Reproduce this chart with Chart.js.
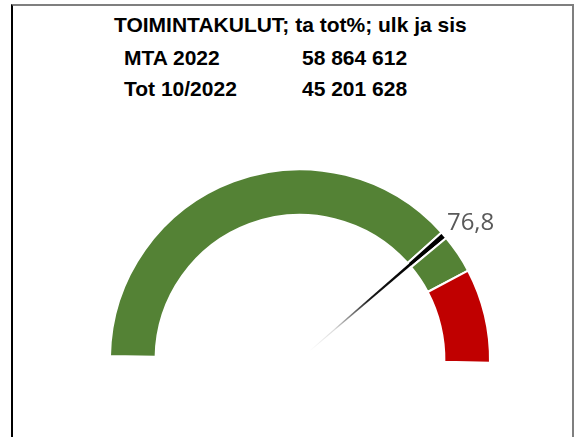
<!DOCTYPE html>
<html>
<head>
<meta charset="utf-8">
<script src="https://cdn.jsdelivr.net/npm/chart.js@4/dist/chart.umd.min.js"></script>
<style>
  html, body { margin:0; padding:0; background:#fff; width:579px; height:437px; overflow:hidden; }
  .frame { position:absolute; left:11px; top:4px; width:559px; height:440px;
           border-top:2px solid #7f7f7f; border-left:2px solid #000; border-right:2px solid #7f7f7f; }
  .t { position:absolute; font-family:"Liberation Sans", Arial, sans-serif; font-weight:bold;
       font-size:21px; line-height:21px; color:#000; white-space:nowrap; }
  #wrap { position:absolute; left:80px; top:140px; width:440px; height:230px; }
</style>
</head>
<body>
<div class="frame"></div>
<div class="t" id="title" style="left:114px; top:14px;"></div>
<div class="t" id="l1a" style="left:124px; top:47px;"></div>
<div class="t" id="l1b" style="left:302px; top:47px;"></div>
<div class="t" id="l2a" style="left:124px; top:78px;"></div>
<div class="t" id="l2b" style="left:302px; top:78px;"></div>
<div id="wrap"><canvas id="c" width="440" height="230"></canvas></div>
<script>
// ---- data ----
const titleText = "TOIMINTAKULUT; ta tot%; ulk ja sis";
const rowLabels = ["MTA 2022", "Tot 10/2022"];
const rowValues = ["58 864 612", "45 201 628"];
const gaugeValue = 76.8;      // percent
const redStart = 84;          // start of red zone (percent)
const gaugeMax = 100;
const needleWidth = 1.2;      // width of needle slice in ring (percent units)
const segColors = ["#548235", "#000000", "#548235", "#C00000"];

document.getElementById('title').textContent = titleText;
document.getElementById('l1a').textContent = rowLabels[0];
document.getElementById('l1b').textContent = rowValues[0];
document.getElementById('l2a').textContent = rowLabels[1];
document.getElementById('l2b').textContent = rowValues[1];

const ringData = [
  gaugeValue - needleWidth / 2,
  needleWidth,
  redStart - gaugeValue - needleWidth / 2,
  gaugeMax - redStart
];

const needlePlugin = {
  id: 'needle',
  afterDatasetsDraw(chart) {
    const arc = chart.getDatasetMeta(0).data[1];
    const p = arc.getProps(['x','y','startAngle','endAngle','outerRadius','innerRadius'], true);
    const a = (p.startAngle + p.endAngle) / 2;
    const ca = Math.cos(a), sa = Math.sin(a);
    const nx = -sa, ny = ca;
    const ctx = chart.ctx;
    ctx.save();
    const r0 = 12, r1 = p.innerRadius + 2;
    const grad = ctx.createLinearGradient(p.x + ca * r0, p.y + sa * r0, p.x + ca * r1, p.y + sa * r1);
    grad.addColorStop(0, 'rgba(0,0,0,0)');
    grad.addColorStop(0.25, 'rgba(0,0,0,0.15)');
    grad.addColorStop(0.6, 'rgba(0,0,0,0.9)');
    grad.addColorStop(1, 'rgba(0,0,0,1)');
    const w0 = 0.4, w1 = 1.4;
    ctx.beginPath();
    ctx.moveTo(p.x + ca * r0 + nx * w0, p.y + sa * r0 + ny * w0);
    ctx.lineTo(p.x + ca * r1 + nx * w1, p.y + sa * r1 + ny * w1);
    ctx.lineTo(p.x + ca * r1 - nx * w1, p.y + sa * r1 - ny * w1);
    ctx.lineTo(p.x + ca * r0 - nx * w0, p.y + sa * r0 - ny * w0);
    ctx.closePath();
    ctx.fillStyle = grad;
    ctx.fill();
    // value label
    const tipX = p.x + ca * p.outerRadius, tipY = p.y + sa * p.outerRadius;
    ctx.font = '24px "Open Sans", "Liberation Sans", sans-serif';
    ctx.fillStyle = '#595959';
    ctx.textAlign = 'left';
    ctx.textBaseline = 'alphabetic';
    ctx.fillText(gaugeValue.toFixed(1).replace('.', ','), tipX + 3, tipY - 5);
    ctx.restore();
  }
};

new Chart(document.getElementById('c'), {
  type: 'doughnut',
  data: {
    labels: ['a', 'needle', 'b', 'c'],
    datasets: [{
      data: ringData,
      backgroundColor: segColors,
      borderColor: '#ffffff',
      borderWidth: 2,
      hoverOffset: 0
    }]
  },
  options: {
    responsive: false,
    animation: false,
    events: [],
    rotation: -89,
    circumference: 180,
    cutout: '76%',
    layout: { padding: { left: 29, right: 29, top: 28, bottom: 6 } },
    plugins: { legend: { display: false }, tooltip: { enabled: false } }
  },
  plugins: [needlePlugin]
});
</script>
</body>
</html>
